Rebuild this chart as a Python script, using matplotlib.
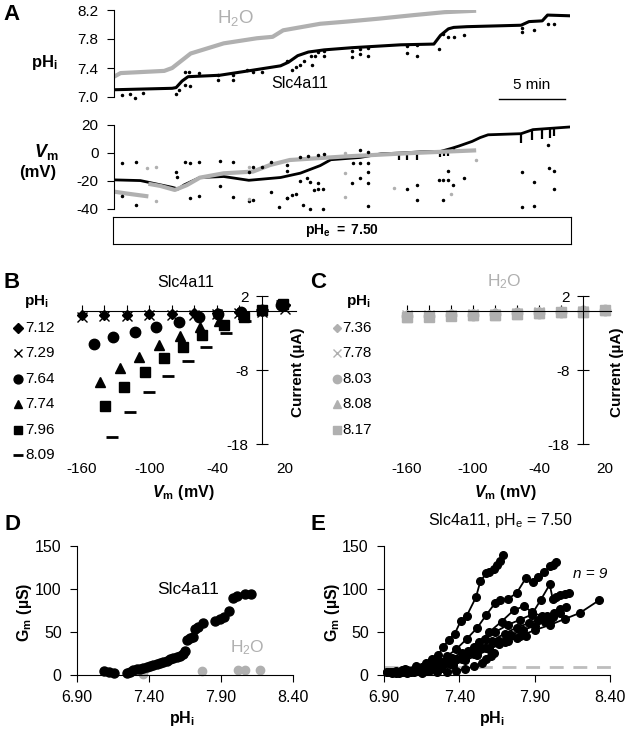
import numpy as np
import matplotlib
matplotlib.use('Agg')
import matplotlib.pyplot as plt
from matplotlib.lines import Line2D

plt.rcParams['font.family'] = ['Liberation Sans', 'DejaVu Sans']
plt.rcParams['mathtext.fontset'] = 'custom'
plt.rcParams['mathtext.rm'] = 'Liberation Sans'
plt.rcParams['mathtext.it'] = 'Liberation Sans:italic:bold'
plt.rcParams['mathtext.bf'] = 'Liberation Sans:bold'
plt.rcParams['axes.unicode_minus'] = False

GRAY = '#b0b0b0'
FS = 11

# ---------------- panel A data (time in min) ----------------
ph_t = [0, 4.4, 4.7, 5.15, 5.6, 8.0, 10.15, 12.6, 13.2, 13.9, 14.7, 15.9, 18.0, 21.7, 24.2, 24.7,
        25.3, 25.7, 26.7, 30.8, 31.4, 32.4, 32.8, 34.5]
ph_slc = [7.10, 7.12, 7.13, 7.22, 7.28, 7.30, 7.36, 7.43, 7.48, 7.57, 7.62, 7.65, 7.68, 7.72, 7.73, 7.85,
          7.94, 7.96, 7.97, 7.99, 8.04, 8.05, 8.13, 8.12]
ph_h2o_t = [0, 0.5, 3.8, 4.4, 5.8, 8.3, 10.8, 12.0, 12.8, 15.6, 17.6, 20.0, 22.7, 25.0, 27.4]
ph_h2o = [7.28, 7.33, 7.36, 7.40, 7.60, 7.74, 7.81, 7.83, 7.92, 8.01, 8.04, 8.08, 8.13, 8.17, 8.19]

ph_dot_t = [0.6, 1.2, 1.6, 2.2, 4.7, 4.9, 5.4, 5.7, 5.4, 5.75, 6.4, 7.9, 7.9, 9.0, 9.0, 10.05, 10.55, 11.2,
            13.1, 13.5, 13.8, 14.1, 14.4, 14.9, 15.0, 15.2, 15.4, 15.9, 15.9, 18.0, 18.0, 18.6, 18.6,
            19.2, 19.2, 22.2, 22.2, 22.9, 22.9, 24.6, 24.9, 25.3, 25.7, 26.5, 30.9, 30.9, 31.8, 32.8, 33.3]
ph_dot = [7.03, 7.04, 6.99, 7.06, 7.04, 7.09, 7.34, 7.34, 7.17, 7.15, 7.33, 7.24, 7.30, 7.24, 7.30, 7.37, 7.35, 7.35,
          7.49, 7.37, 7.42, 7.44, 7.49, 7.56, 7.44, 7.57, 7.62, 7.64, 7.57, 7.64, 7.55, 7.66, 7.59,
          7.68, 7.57, 7.71, 7.60, 7.56, 7.72, 7.66, 7.87, 7.83, 7.83, 7.85, 7.90, 7.95, 7.92, 8.01, 8.01]

vm_t = [0, 2.0, 4.4, 4.85, 5.3, 6.5, 8.3, 10.2, 12.6, 14.1, 15.6, 16.4, 18.6, 20.2, 21.7, 23.2, 24.7,
        25.6, 26.1, 27.1, 27.7, 28.3, 30.8, 31.7, 34.5]
vm_slc = [-19.2, -19.7, -24.5, -25.7, -22.8, -17.5, -16.8, -19.5, -17.5, -14.4, -9.0, -4.8, -3.2, -0.6, 0.0, 0.8, 1.1,
          3.5, 5.0, 8.3, 11.0, 13.0, 13.8, 16.7, 18.6]
vm_h2o_t1 = [0, 1.0, 2.6]
vm_h2o_1 = [-27.6, -29.0, -31.0]
vm_h2o_t2 = [2.6, 3.5, 4.6, 5.5, 6.5, 8.3, 10.5, 11.8, 13.3, 17.6, 22.6, 27.4]
vm_h2o_2 = [-22.0, -23.5, -26.4, -23.0, -17.6, -14.5, -13.3, -8.6, -5.0, -2.4, 0.0, 1.9]

dip_t = [21.6, 22.2, 22.9, 24.7, 25.0, 25.3, 25.7, 30.8, 31.6, 32.4, 33.0, 33.3]
dip_low = [-5, -5, -5, -3, -2, -2, 0, 7, 9, 10, 11, 12]

vm_dot_t = [0.63, 1.67, 0.58, 1.64, 4.7, 4.8, 5.4, 5.76, 6.4, 5.76, 6.4, 8.0, 8.0, 9.0, 9.0, 10.25, 10.55,
            10.2, 10.55, 11.2, 11.9, 11.9, 12.45, 13.1, 14.1, 14.7, 15.4, 15.9, 13.1, 13.1, 14.1, 14.6,
            14.85, 15.4, 15.1, 15.4, 15.8, 13.1, 13.5, 13.8, 14.3, 14.85, 15.8, 18.6, 19.2, 18.1, 18.6,
            19.2, 19.2, 18.6, 18.0, 19.2, 19.2, 22.2, 22.9, 22.9, 24.6, 24.9, 25.3, 25.3, 25.65, 24.9,
            26.5, 30.9, 31.8, 30.9, 31.8, 32.9, 33.3, 33.3, 32.8]
vm_dot = [-6.9, -6.6, -30.7, -37.1, -13.3, -17.1, -6.2, -7.0, -6.2, -32.4, -31.0, -5.8, -23.7, -6.2, -31.5, -13.3, -9.8,
          -34.5, -33.3, -9.8, -6.2, -27.6, -38.8, -31.9, -2.6, -2.1, -1.4, -0.7, -8.6, -12.9, -19.8, -18.1,
          -20.5, -21.2, -26.4, -26.0, -26.0, -31.9, -30.0, -29.5, -37.1, -40.0, -40.0, 2.1, 1.0, -6.9, -6.9,
          -6.9, -13.3, -17.6, -21.6, -21.6, -38.2, -25.5, -23.1, -33.8, -19.5, -19.5, -12.9, -19.5, -22.6, -33.8,
          -17.9, -38.4, -37.7, -13.3, -20.4, -10.9, -12.8, -25.7, 5.9]
vm_gdot_t = [2.5, 3.2, 3.2, 10.2, 10.2, 17.5, 17.5, 17.5, 21.2, 25.5, 27.4]
vm_gdot = [-11.0, -10.2, -34.0, -10.0, -33.0, -0.2, -14.5, -31.6, -24.8, -29.0, -5.0]

# ---------------- panel B / C data (Vm in mV, current in uA) ----------------
ivB_labels = ['7.12', '7.29', '7.64', '7.74', '7.96', '8.09']
ivB_v = [[-160, -140, -120, -100, -80, -60, -40, -20, 0, 20],
         [-160, -140, -120, -100, -80, -60, -40, -20, 0, 20],
         [-149, -132, -113, -94, -74, -56, -39, -19, 0, 17],
         [-144, -126, -109, -91, -73, -55, -38, -17, 0, 19],
         [-139, -122, -104, -87, -70, -53, -34, -16, 0, 19],
         [-133, -117, -100, -83, -66, -50, -32, -15, 0, 18]]
ivB_i = [[-0.5, -0.5, -0.5, -0.4, -0.4, -0.3, -0.3, -0.2, 0.0, 0.8],
         [-0.8, -0.7, -0.7, -0.6, -0.6, -0.5, -0.4, -0.3, -0.1, 0.3],
         [-4.4, -3.5, -2.8, -2.1, -1.5, -0.8, -0.4, -0.1, 0.1, 0.8],
         [-9.6, -7.7, -6.2, -4.6, -3.4, -2.1, -1.3, -0.4, 0.2, 1.0],
         [-12.8, -10.3, -8.2, -6.4, -4.8, -3.2, -1.9, -0.8, 0.1, 1.0],
         [-17.0, -13.7, -11.0, -8.8, -6.7, -4.8, -3.0, -1.4, 0.1, 1.3]]
iv_markers = ['D', 'x', 'o', '^', 's', '_']
iv_msize = [5.5, 7, 7.5, 7.5, 7.5, 9]

ivC_labels = ['7.36', '7.78', '8.03', '8.08', '8.17']
ivC_v = [-160, -140, -120, -100, -80, -60, -40, -20, 0, 20]
ivC_i = [[-0.5, -0.5, -0.4, -0.4, -0.3, -0.3, -0.2, -0.1, 0.0, 0.1],
         [-0.6, -0.6, -0.5, -0.4, -0.4, -0.3, -0.2, -0.1, 0.0, 0.1],
         [-0.7, -0.7, -0.6, -0.5, -0.4, -0.3, -0.3, -0.2, 0.0, 0.1],
         [-0.8, -0.7, -0.6, -0.6, -0.5, -0.4, -0.3, -0.2, -0.1, 0.1],
         [-0.85, -0.8, -0.65, -0.6, -0.5, -0.4, -0.3, -0.2, -0.1, 0.1]]

# ---------------- panel D data ----------------
gd_ph = [7.09, 7.12, 7.16, 7.245, 7.268, 7.291, 7.314, 7.338, 7.361, 7.384, 7.407, 7.430, 7.453, 7.476,
         7.500, 7.523, 7.546, 7.569, 7.592, 7.615, 7.634, 7.650, 7.666, 7.685, 7.703, 7.719, 7.743,
         7.777, 7.858, 7.893, 7.921, 7.958, 7.986, 8.013, 8.067, 8.106]
gd_gm = [5.0, 3.9, 2.7, 2.7, 3.9, 5.8, 6.6, 7.4, 8.5, 9.7, 10.5, 11.6, 12.8, 14.3,
         15.5, 16.7, 18.2, 19.4, 20.5, 22.1, 24.4, 28.3, 40.7, 42.6, 44.6, 53.1, 55.4,
         60.1, 63.2, 64.7, 67.1, 74.8, 89.1, 91.1, 93.8, 94.2]
gd_h2o_ph = [7.36, 7.77, 8.02, 8.07, 8.17]
gd_h2o_gm = [1.2, 5.0, 5.8, 5.8, 5.8]

# ---------------- panel E data (9 oocytes) ----------------
ge_ph = [
    [6.98, 7.04, 7.11, 7.18, 7.22, 7.26, 7.29, 7.33, 7.37, 7.41, 7.45, 7.51, 7.54, 7.58, 7.60, 7.63, 7.65, 7.67, 7.69],
    [6.95, 7.05, 7.15, 7.25, 7.32, 7.38, 7.45, 7.52, 7.58, 7.64, 7.67, 7.72, 7.78, 7.84, 7.89, 7.92, 7.96, 8.00, 8.02, 8.04],
    [6.92, 7.02, 7.12, 7.20, 7.28, 7.35, 7.42, 7.50, 7.57, 7.64, 7.72, 7.80, 7.88, 7.94, 8.00, 8.02, 8.04, 8.07, 8.10, 8.13],
    [7.00, 7.10, 7.20, 7.28, 7.36, 7.44, 7.52, 7.60, 7.70, 7.80, 7.90, 8.00, 8.10, 8.20, 8.33],
    [6.96, 7.05, 7.14, 7.22, 7.30, 7.38, 7.46, 7.54, 7.62, 7.70, 7.78, 7.86, 7.92, 7.98, 8.03, 8.07, 8.11],
    [6.98, 7.08, 7.18, 7.26, 7.34, 7.42, 7.50, 7.58, 7.66, 7.74, 7.82, 7.90, 7.97, 8.02, 8.07],
    [6.94, 7.04, 7.14, 7.22, 7.30, 7.38, 7.46, 7.53, 7.60, 7.68, 7.76, 7.83, 7.88, 7.95, 8.00],
    [6.92, 7.02, 7.12, 7.20, 7.28, 7.36, 7.44, 7.52, 7.60, 7.66, 7.72, 7.78, 7.84],
    [6.95, 7.05, 7.15, 7.25, 7.32, 7.38, 7.44, 7.50, 7.55, 7.58, 7.61, 7.63],
]
ge_gm = [
    [5, 7, 10, 14, 19, 23, 32, 41, 48, 63, 69, 90, 109, 118, 120, 123, 128, 132, 139],
    [4, 6, 9, 14, 22, 30, 42, 55, 70, 84, 87, 88, 95, 112, 108, 114, 119, 126, 128, 131],
    [4, 6, 8, 11, 15, 20, 26, 33, 42, 50, 58, 64, 70, 87, 105, 88, 91, 93, 94, 95],
    [2, 3, 5, 8, 12, 17, 23, 30, 38, 45, 52, 58, 65, 72, 87],
    [3, 5, 7, 10, 14, 19, 25, 32, 40, 48, 55, 60, 64, 68, 72, 76, 79],
    [2, 4, 6, 9, 13, 18, 24, 31, 39, 46, 52, 57, 62, 67, 72],
    [3, 4, 6, 9, 13, 19, 28, 38, 50, 62, 75, 80, 73, 68, 64],
    [3, 4, 5, 7, 10, 14, 19, 25, 31, 36, 40, 43, 45],
    [2, 2, 2, 3, 4, 5, 7, 10, 14, 18, 22, 26],
]
ge_thresh = 9

W, H = 627, 730
fig = plt.figure(figsize=(W / 100, H / 100), dpi=100)


def px_axes(l, t, r, b):
    return fig.add_axes([l / W, 1 - b / H, (r - l) / W, (b - t) / H])


def ftext(x, y, s, **kw):
    kw.setdefault('fontsize', FS)
    kw.setdefault('ha', 'center')
    kw.setdefault('va', 'center')
    return fig.text(x / W, 1 - y / H, s, **kw)


def fmarker(x, y, **kw):
    fig.add_artist(Line2D([x / W], [1 - y / H], transform=fig.transFigure, linestyle='none', **kw))


# ---------- A: pHi ----------
axA = px_axes(114, 10, 570, 97)
axA.set_xlim(0, 34.5)
axA.set_ylim(7.0, 8.2)
for s in ['top', 'right', 'bottom']:
    axA.spines[s].set_visible(False)
axA.set_xticks([])
axA.set_yticks([7.0, 7.4, 7.8, 8.2])
axA.set_yticklabels(['7.0', '7.4', '7.8', '8.2'])
axA.tick_params(axis='y', direction='out', length=5, pad=6, labelsize=FS)
axA.plot(ph_h2o_t, ph_h2o, color=GRAY, lw=3, solid_capstyle='butt')
axA.plot(ph_t, ph_slc, color='black', lw=2.2)
axA.plot(ph_dot_t, ph_dot, 'k.', ms=3, clip_on=False)
axA.plot([29.1, 34.1], [6.97, 6.97], color='black', lw=1, clip_on=False)
axA.text(31.6, 7.17, '5 min', ha='center', va='center', fontsize=FS)
ftext(236, 18, r'H$_\mathrm{2}$O', color=GRAY, fontsize=13.5)
ftext(300, 84, 'Slc4a11', fontsize=FS + 0.5)
ftext(44, 62, r'$\mathbf{pH}_\mathbf{i}$', fontsize=FS + 1)
ftext(12, 15, 'A', fontsize=16, fontweight='bold')

# ---------- A: Vm ----------
axV = px_axes(114, 125, 570, 209)
axV.set_xlim(0, 34.5)
axV.set_ylim(-40, 20)
for s in ['top', 'right', 'bottom']:
    axV.spines[s].set_visible(False)
axV.set_xticks([])
axV.set_yticks([-40, -20, 0, 20])
axV.tick_params(axis='y', direction='out', length=5, pad=6, labelsize=FS)
axV.plot(vm_t, vm_slc, color='black', lw=2)
dip_top = np.interp(dip_t, vm_t, vm_slc)
axV.vlines(dip_t, dip_low, dip_top, color='black', lw=1.6)
axV.plot(vm_h2o_t1, vm_h2o_1, color=GRAY, lw=3, solid_capstyle='butt')
axV.plot(vm_h2o_t2, vm_h2o_2, color=GRAY, lw=3, solid_capstyle='butt')
axV.plot(vm_dot_t, vm_dot, 'k.', ms=3, clip_on=False)
axV.plot(vm_gdot_t, vm_gdot, '.', color=GRAY, ms=3, clip_on=False)
ftext(46, 152, r'$\mathit{V}_\mathbf{m}$', fontsize=FS + 2)
ftext(38, 173, '(mV)', fontsize=FS + 1, fontweight='bold')

axBox = px_axes(113, 217, 571, 244)
axBox.set_xticks([])
axBox.set_yticks([])
axBox.text(0.5, 0.5, r'$\mathbf{pH}_\mathbf{e}\mathbf{\ =\ 7.50}$', ha='center', va='center',
           fontsize=10, transform=axBox.transAxes)


# ---------- B & C: I-V ----------
def iv_axes(x0, scale, xlo, xhi, xend):
    ax = px_axes(x0 + scale * xlo, 311 - 7.4 * 2.6, x0 + scale * xhi, 311 + 7.4 * 18.6)
    ax.set_xlim(xlo, xhi)
    ax.set_ylim(-18.6, 2.6)
    ax.spines['top'].set_visible(False)
    ax.spines['right'].set_visible(False)
    ax.spines['left'].set_position(('data', 0))
    ax.spines['bottom'].set_position(('data', 0))
    ax.spines['left'].set_bounds(-18, 2)
    ax.spines['bottom'].set_bounds(-160, xend)
    ax.set_yticks([-18, -8, 2])
    ax.set_yticklabels(['-18', '-8', '2'])
    ax.set_xticks(list(range(-160, 21, 20)))
    ax.tick_params(axis='y', direction='inout', length=9, pad=5, labelsize=FS)
    ax.tick_params(axis='x', direction='in', length=4, labelbottom=False)
    for v in [-160, -100, -40, 20]:
        ax.text(v, -0.13, str(v), transform=ax.get_xaxis_transform(), ha='center', va='center', fontsize=FS)
    return ax


axB = iv_axes(262, 1.128, -165, 33, 30)
for k in range(len(ivB_labels)):
    mk = iv_markers[k]
    mew = 2 if mk == '_' else 1
    axB.plot(ivB_v[k], ivB_i[k], linestyle='none', marker=mk, ms=iv_msize[k], color='black', mew=mew, clip_on=False)
    fmarker(18, 328 + 25.4 * k, marker=mk, ms=iv_msize[k] * 0.85, color='black', mew=mew)
    ftext(25, 328 + 25.4 * k, ivB_labels[k], ha='left')
ftext(24, 301, r'$\mathbf{pH}_\mathbf{i}$', ha='left')
ftext(298, 372, 'Current (µA)', rotation=90, fontweight='bold')
ftext(183, 493, r'$\mathit{V}_\mathbf{m}\mathbf{\ (mV)}$', fontsize=FS + 0.5)
ftext(186, 282, 'Slc4a11', fontsize=FS + 0.5)
ftext(12, 283, 'B', fontsize=16, fontweight='bold')

axC = iv_axes(583, 1.1, -165, 28, 25)
for k in range(len(ivC_labels)):
    mk = iv_markers[k]
    axC.plot(ivC_v, ivC_i[k], linestyle='none', marker=mk, ms=iv_msize[k], color=GRAY, mew=1, clip_on=False)
    fmarker(337, 328 + 25.4 * k, marker=mk, ms=iv_msize[k] * 0.8, color=GRAY, mew=1)
    ftext(342, 328 + 25.4 * k, ivC_labels[k], ha='left')
ftext(346, 301, r'$\mathbf{pH}_\mathbf{i}$', ha='left')
ftext(617, 372, 'Current (µA)', rotation=90, fontweight='bold')
ftext(505, 493, r'$\mathit{V}_\mathbf{m}\mathbf{\ (mV)}$', fontsize=FS + 0.5)
ftext(504, 282, r'H$_\mathrm{2}$O', color=GRAY, fontsize=FS + 1.5)
ftext(318, 283, 'C', fontsize=16, fontweight='bold')


# ---------- D & E: conductance ----------
def g_axes(l, r):
    ax = px_axes(l, 545.7, r, 675)
    ax.set_xlim(6.9, 8.4)
    ax.set_ylim(0, 150)
    ax.spines['top'].set_visible(False)
    ax.spines['right'].set_visible(False)
    ax.set_xticks([6.9, 7.4, 7.9, 8.4])
    ax.set_xticklabels(['6.90', '7.40', '7.90', '8.40'])
    ax.set_yticks([0, 50, 100, 150])
    ax.tick_params(direction='out', length=5, pad=6, labelsize=FS + 0.5)
    return ax


axD = g_axes(77, 293)
axD.plot(gd_h2o_ph, gd_h2o_gm, 'o', color=GRAY, ms=6, mec=GRAY, clip_on=False)
axD.plot(gd_ph, gd_gm, 'o', color='black', ms=6.5, clip_on=False)
ftext(188, 589, 'Slc4a11', fontsize=FS + 1.5)
ftext(247, 648, r'H$_\mathrm{2}$O', color=GRAY, fontsize=FS + 1.5)
ftext(182, 718, r'$\mathbf{pH}_\mathbf{i}$', fontsize=FS + 0.5)
ftext(25, 612, r'$\mathbf{G}_\mathbf{m}\mathbf{\ (µS)}$', rotation=90, fontsize=FS + 0.5)
ftext(12, 525, 'D', fontsize=16, fontweight='bold')

axE = g_axes(384, 610)
axE.plot([6.9, 8.45], [ge_thresh, ge_thresh], color='#bdbdbd', lw=2, dashes=(5, 3.5), clip_on=False, zorder=1)
for k in range(len(ge_ph)):
    axE.plot(ge_ph[k], ge_gm[k], '-o', color='black', lw=1.3, ms=5.5, clip_on=False, zorder=3)
ftext(500, 521, r'Slc4a11, pH$_\mathrm{e}$ = 7.50', fontsize=FS + 0.5)
ftext(590, 574, 'n = 9', style='italic', fontsize=FS)
ftext(492, 718, r'$\mathbf{pH}_\mathbf{i}$', fontsize=FS + 0.5)
ftext(333, 612, r'$\mathbf{G}_\mathbf{m}\mathbf{\ (µS)}$', rotation=90, fontsize=FS + 0.5)
ftext(318, 525, 'E', fontsize=16, fontweight='bold')

fig.savefig('out.png', dpi=100)
